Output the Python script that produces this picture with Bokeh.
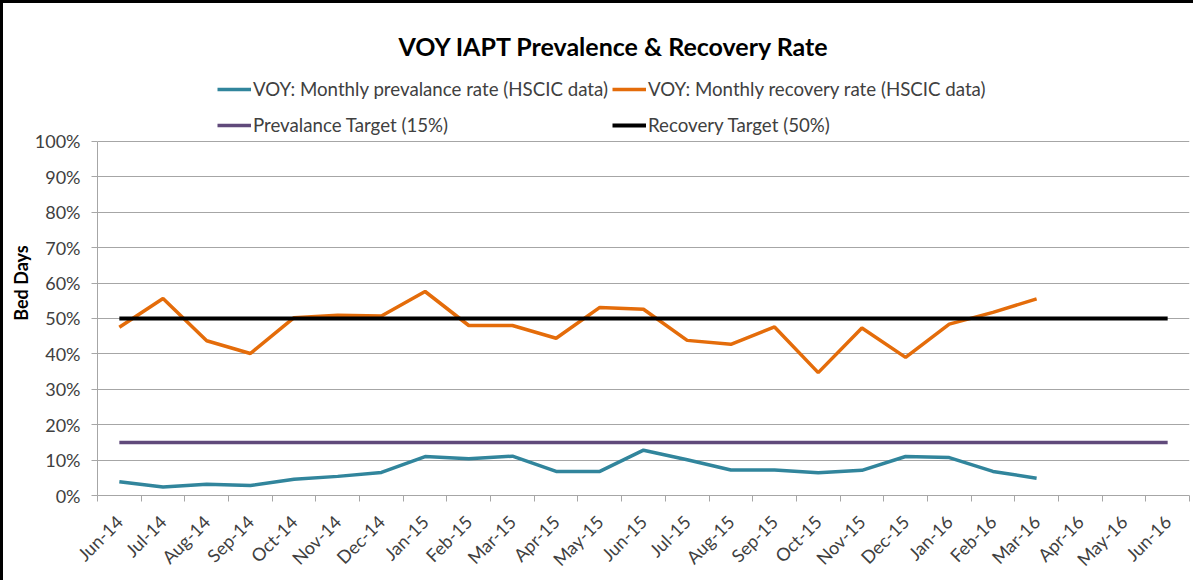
from bokeh.plotting import figure
from bokeh.models import (Range1d, LinearAxis, FixedTicker, NumeralTickFormatter,
                          Legend, LegendItem)
from bokeh.embed import file_html
from bokeh.resources import INLINE
import math

months = ["Jun-14", "Jul-14", "Aug-14", "Sep-14", "Oct-14", "Nov-14", "Dec-14",
          "Jan-15", "Feb-15", "Mar-15", "Apr-15", "May-15", "Jun-15", "Jul-15",
          "Aug-15", "Sep-15", "Oct-15", "Nov-15", "Dec-15", "Jan-16", "Feb-16",
          "Mar-16", "Apr-16", "May-16", "Jun-16"]
prevalence = [0.039, 0.024, 0.032, 0.028, 0.046, 0.054, 0.065, 0.110, 0.104, 0.111,
              0.068, 0.068, 0.128, 0.101, 0.072, 0.072, 0.064, 0.071, 0.110, 0.107,
              0.068, 0.049]
recovery = [0.475, 0.556, 0.437, 0.401, 0.502, 0.509, 0.507, 0.576, 0.480, 0.480,
            0.444, 0.531, 0.526, 0.438, 0.427, 0.476, 0.347, 0.473, 0.390, 0.484,
            0.517, 0.555]
prev_target = [0.15] * len(months)
rec_target = [0.50] * len(months)
y_ticks = [i / 10 for i in range(11)]

# category centres on a 0..N axis (one unit per month)
xpos = [i + 0.5 for i in range(len(months))]

FONT = "Lato"
TXT = "#404040"
GRID = "#a6a6a6"

# the frame extends above 100% to hold the legend; axis and grid stop at 100%
p = figure(x_range=Range1d(0, len(months)), y_range=Range1d(0, 1.2),
           frame_width=1092, frame_height=425,
           min_border_left=94, min_border_right=4, min_border_top=67, min_border_bottom=80,
           x_axis_location=None, y_axis_location=None,
           output_backend="svg", toolbar_location=None,
           title="VOY IAPT Prevalence & Recovery Rate")
p.styles = {"border-left": "3px solid black", "border-top": "3px solid black"}
p.outline_line_color = None
p.background_fill_color = "white"
p.border_fill_color = "white"

p.title.text_font = FONT
p.title.text_font_size = "25px"
p.title.text_font_style = "bold"
p.title.text_color = "black"
p.title.align = "left"
p.title.offset = 301
p.title.standoff = 20

# y axis
yax = LinearAxis(ticker=FixedTicker(ticks=y_ticks),
                 formatter=NumeralTickFormatter(format="0%"),
                 axis_label="Bed Days", bounds=(0, 1))
yax.axis_label_text_font = FONT
yax.axis_label_text_font_size = "18px"
yax.axis_label_text_font_style = "bold"
yax.axis_label_text_color = "black"
yax.axis_label_standoff = 0
yax.major_label_text_font = FONT
yax.major_label_text_font_size = "18px"
yax.major_label_text_color = TXT
yax.major_label_standoff = 11
yax.axis_line_color = GRID
yax.major_tick_line_color = GRID
yax.major_tick_out = 6
yax.major_tick_in = 0
yax.minor_tick_line_color = None
p.add_layout(yax, "left")

# x axis: labels at month centres, tick marks between months
xax = LinearAxis(ticker=FixedTicker(ticks=xpos, minor_ticks=list(range(len(months) + 1))))
xax.major_label_overrides = {x: m for x, m in zip(xpos, months)}
xax.axis_line_color = GRID
xax.major_tick_line_color = None
xax.major_tick_out = 0
xax.major_tick_in = 0
xax.minor_tick_line_color = GRID
xax.minor_tick_out = 6
xax.minor_tick_in = 0
xax.major_label_orientation = math.pi / 4
xax.major_label_text_font = FONT
xax.major_label_text_font_size = "18px"
xax.major_label_text_color = TXT
xax.major_label_standoff = 17
p.add_layout(xax, "below")

p.xgrid.grid_line_color = None
p.ygrid.ticker = FixedTicker(ticks=y_ticks)
p.ygrid.grid_line_color = GRID
p.ygrid.grid_line_width = 1

r_prev = p.line(xpos[:len(prevalence)], prevalence, line_color="#31859C", line_width=3.5)
r_rec = p.line(xpos[:len(recovery)], recovery, line_color="#E46C0A", line_width=3.5)
r_pt = p.line(xpos, prev_target, line_color="#604A7B", line_width=3.5)
r_rt = p.line(xpos, rec_target, line_color="black", line_width=4)

legend = Legend(items=[
    LegendItem(label="VOY: Monthly prevalance rate (HSCIC data)", renderers=[r_prev]),
    LegendItem(label="VOY: Monthly recovery rate (HSCIC data)", renderers=[r_rec]),
    LegendItem(label="Prevalance Target (15%)", renderers=[r_pt]),
    LegendItem(label="Recovery Target (50%)", renderers=[r_rt]),
], ncols=2, orientation="horizontal", location=(120, 354))
legend.label_text_font = FONT
legend.label_text_font_size = "18.7px"
legend.label_text_color = TXT
legend.glyph_width = 34
legend.glyph_height = 20
legend.label_height = 32
legend.label_standoff = 2
legend.spacing = 4
legend.padding = 0
legend.margin = 0
legend.border_line_color = None
legend.background_fill_alpha = 0
p.add_layout(legend, "center")

open("out.html", "w").write(file_html(p, INLINE))
